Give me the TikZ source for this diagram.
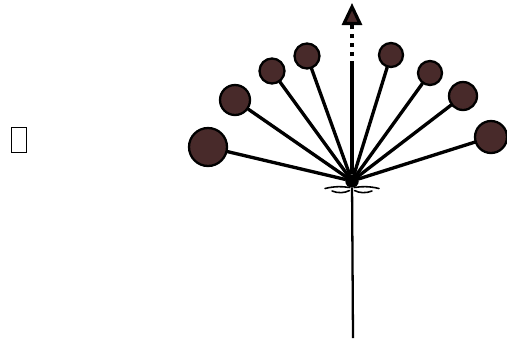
\documentclass[tikz,border=0pt]{standalone}
\usepackage{xcolor}
\usetikzlibrary{arrows.meta}
\definecolor{umbel}{RGB}{72,42,42}

\begin{document}
\begin{tikzpicture}[
    ray/.style={line width=1.9pt, line cap=round},
    ball/.style={circle, draw=black, line width=1.3pt, fill=umbel, inner sep=0pt},
    up/.style={-{Triangle[length=0.44cm, width=0.4cm, fill=umbel]}, line width=1.8pt, dash pattern=on 2.3pt off 2.8pt},
    br/.style={line width=0.9pt, line cap=round}
]
\useasboundingbox (0,0) rectangle (10.14,6.8);
\node[draw, line width=1.1pt, minimum width=0.3cm, minimum height=0.5cm, inner sep=0pt] (box) at (0.38,4.0) {};
% hub, stem and axis
\node[circle, fill=black, minimum size=0.27cm, inner sep=0pt] (hub) at (7.04,3.18) {};
\coordinate (foot) at (7.06,0.04);
\coordinate (top) at (7.04,5.5);
\coordinate (tip) at (7.04,6.74);
\draw[line width=1.3pt] (hub) -- (foot);
\draw[line width=1.8pt] (hub) -- (top);
\draw[up] (top) -- (tip);
% umbellets
\node[ball, minimum size=0.76cm] (u1) at (4.16,3.86) {};
\node[ball, minimum size=0.60cm] (u2) at (4.70,4.80) {};
\node[ball, minimum size=0.50cm] (u3) at (5.44,5.38) {};
\node[ball, minimum size=0.50cm] (u4) at (6.14,5.68) {};
\node[ball, minimum size=0.48cm] (u5) at (7.82,5.70) {};
\node[ball, minimum size=0.48cm] (u6) at (8.60,5.34) {};
\node[ball, minimum size=0.56cm] (u7) at (9.26,4.88) {};
\node[ball, minimum size=0.64cm] (u8) at (9.82,4.06) {};
\draw[ray] (hub) -- (u1);
\draw[ray] (hub) -- (u2);
\draw[ray] (hub) -- (u3);
\draw[ray] (hub) -- (u4);
\draw[ray] (hub) -- (u5);
\draw[ray] (hub) -- (u6);
\draw[ray] (hub) -- (u7);
\draw[ray] (hub) -- (u8);
% bracts
\draw[br] (6.50,3.03) .. controls (6.70,3.08) and (6.86,3.07) .. (6.99,3.05);
\draw[br] (6.64,2.98) .. controls (6.76,2.93) and (6.90,2.94) .. (6.99,2.99);
\draw[br] (7.58,3.03) .. controls (7.38,3.08) and (7.22,3.07) .. (7.09,3.05);
\draw[br] (7.44,2.98) .. controls (7.32,2.93) and (7.18,2.94) .. (7.09,2.99);
\end{tikzpicture}
\end{document}
